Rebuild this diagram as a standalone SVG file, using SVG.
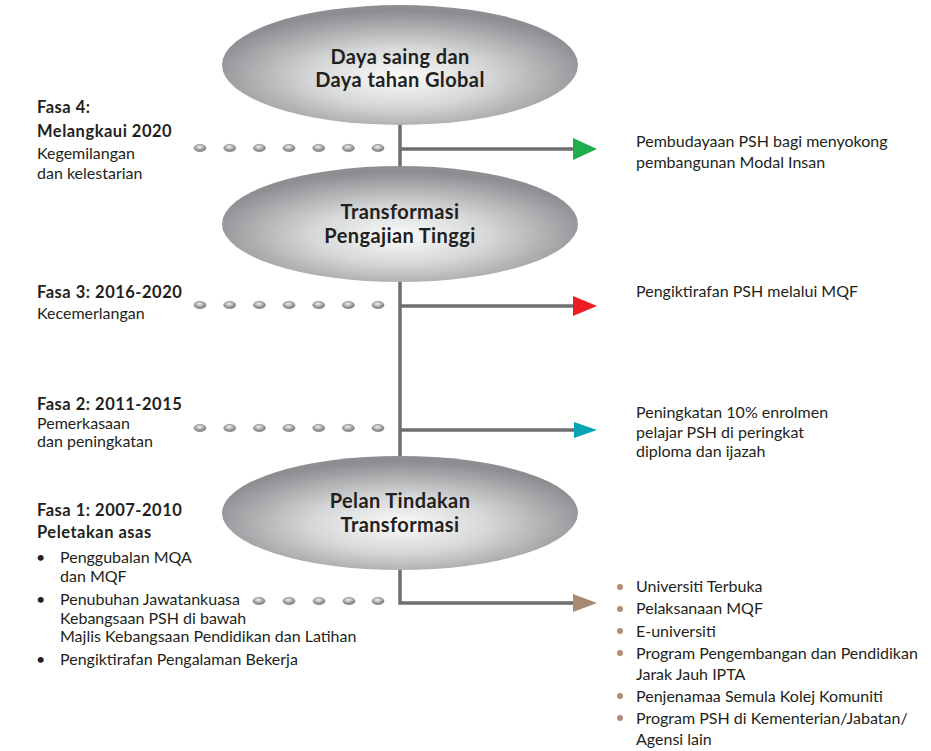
<svg xmlns="http://www.w3.org/2000/svg" width="931" height="751" viewBox="0 0 931 751">
<defs>
<radialGradient id="eg" cx="50%" cy="60%" r="55%">
<stop offset="0" stop-color="#fbfbfb"/>
<stop offset="0.45" stop-color="#d6d7d8"/>
<stop offset="1" stop-color="#8d8e91"/>
</radialGradient>
<radialGradient id="dg" cx="45%" cy="35%" r="65%">
<stop offset="0" stop-color="#f2f2f2"/>
<stop offset="1" stop-color="#6e6f72"/>
</radialGradient>
<g id="dot"><ellipse cx="0" cy="0" rx="6" ry="3.6" fill="url(#dg)" stroke="#7a7b7e" stroke-width="0.6"/></g>
</defs>
<style>
.t{font-family:Lato,"Liberation Sans",sans-serif;font-size:16px;fill:#231f20}
.b{font-family:Lato,"Liberation Sans",sans-serif;font-size:16.5px;font-weight:bold;letter-spacing:0.5px;fill:#231f20}
.h{font-family:Lato,"Liberation Sans",sans-serif;font-size:20px;font-weight:bold;letter-spacing:0.4px;fill:#231f20;text-anchor:middle}
.ln{stroke:#6d6e71;stroke-width:3.5;fill:none}
</style>
<rect width="931" height="751" fill="#ffffff"/>

<g id="connectors">
<path class="ln" d="M400 120 V170"/>
<path class="ln" d="M400 278 V460"/>
<path class="ln" d="M400 566 V603 H576"/>
<path class="ln" d="M400 149 H576"/>
<path class="ln" d="M400 306 H576"/>
<path class="ln" d="M400 430 H576"/>
<polygon points="573,138 597,149 573,160" fill="#1fae4b"/>
<polygon points="573,296 597,306 573,316" fill="#ed1c24"/>
<polygon points="574,422 597,430 574,438" fill="#07a3b5"/>
<polygon points="573,594 597,603 573,612" fill="#a68a74"/>
<g id="dots4">
<use href="#dot" x="200" y="148"/><use href="#dot" x="229.7" y="148"/><use href="#dot" x="259.4" y="148"/><use href="#dot" x="289" y="148"/><use href="#dot" x="318.7" y="148"/><use href="#dot" x="348.4" y="148"/><use href="#dot" x="378" y="148"/>
</g>
<g id="dots3">
<use href="#dot" x="200" y="305"/><use href="#dot" x="229.7" y="305"/><use href="#dot" x="259.4" y="305"/><use href="#dot" x="289" y="305"/><use href="#dot" x="318.7" y="305"/><use href="#dot" x="348.4" y="305"/><use href="#dot" x="378" y="305"/>
</g>
<g id="dots2">
<use href="#dot" x="200" y="428"/><use href="#dot" x="229.7" y="428"/><use href="#dot" x="259.4" y="428"/><use href="#dot" x="289" y="428"/><use href="#dot" x="318.7" y="428"/><use href="#dot" x="348.4" y="428"/><use href="#dot" x="378" y="428"/>
</g>
<g id="dots1">
<use href="#dot" x="259" y="601"/><use href="#dot" x="289" y="601"/><use href="#dot" x="319" y="601"/><use href="#dot" x="349" y="601"/><use href="#dot" x="378" y="601"/>
</g>
</g>

<g id="node-global">
<ellipse cx="400" cy="65" rx="178" ry="60" fill="url(#eg)"/>
<text class="h" x="400" y="64">Daya saing dan</text>
<text class="h" x="400" y="87">Daya tahan Global</text>
</g>
<g id="node-transformasi">
<ellipse cx="400" cy="224" rx="178" ry="58" fill="url(#eg)"/>
<text class="h" x="400" y="219">Transformasi</text>
<text class="h" x="400" y="243">Pengajian Tinggi</text>
</g>
<g id="node-pelan">
<ellipse cx="400" cy="513" rx="178" ry="57" fill="url(#eg)"/>
<text class="h" x="400" y="508">Pelan Tindakan</text>
<text class="h" x="400" y="532">Transformasi</text>
</g>

<g id="fasa4">
<text class="b" x="37" y="113">Fasa 4:</text>
<text class="b" x="37" y="137">Melangkaui 2020</text>
<text class="t" x="37" y="159">Kegemilangan</text>
<text class="t" x="37" y="179">dan kelestarian</text>
</g>
<g id="fasa3">
<text class="b" x="37" y="298">Fasa 3: 2016-2020</text>
<text class="t" x="37" y="319">Kecemerlangan</text>
</g>
<g id="fasa2">
<text class="b" x="37" y="410">Fasa 2: 2011-2015</text>
<text class="t" x="37" y="429">Pemerkasaan</text>
<text class="t" x="37" y="447">dan peningkatan</text>
</g>
<g id="fasa1">
<text class="b" x="37" y="516">Fasa 1: 2007-2010</text>
<text class="b" x="37" y="538">Peletakan asas</text>
<text class="t" x="36" y="563">•</text>
<text class="t" x="60" y="563">Penggubalan MQA</text>
<text class="t" x="60" y="582">dan MQF</text>
<text class="t" x="36" y="605">•</text>
<text class="t" x="60" y="605">Penubuhan Jawatankuasa</text>
<text class="t" x="60" y="624">Kebangsaan PSH di bawah</text>
<text class="t" x="60" y="642">Majlis Kebangsaan Pendidikan dan Latihan</text>
<text class="t" x="36" y="665">•</text>
<text class="t" x="60" y="665">Pengiktirafan Pengalaman Bekerja</text>
</g>

<g id="out4">
<text class="t" x="636" y="147">Pembudayaan PSH bagi menyokong</text>
<text class="t" x="636" y="168">pembangunan Modal Insan</text>
</g>
<g id="out3">
<text class="t" x="636" y="297">Pengiktirafan PSH melalui MQF</text>
</g>
<g id="out2">
<text class="t" x="636" y="418">Peningkatan 10% enrolmen</text>
<text class="t" x="636" y="438">pelajar PSH di peringkat</text>
<text class="t" x="636" y="457">diploma dan ijazah</text>
</g>
<g id="out1">
<g fill="#b08d76">
<circle cx="620" cy="587" r="3"/><circle cx="620" cy="609" r="3"/><circle cx="620" cy="631" r="3"/><circle cx="620" cy="653" r="3"/><circle cx="620" cy="696" r="3"/><circle cx="620" cy="718" r="3"/>
</g>
<text class="t" x="636" y="592">Universiti Terbuka</text>
<text class="t" x="636" y="614">Pelaksanaan MQF</text>
<text class="t" x="636" y="637">E-universiti</text>
<text class="t" x="636" y="659">Program Pengembangan dan Pendidikan</text>
<text class="t" x="636" y="680">Jarak Jauh IPTA</text>
<text class="t" x="636" y="702">Penjenamaa Semula Kolej Komuniti</text>
<text class="t" x="636" y="724">Program PSH di Kementerian/Jabatan/</text>
<text class="t" x="636" y="745">Agensi lain</text>
</g>
</svg>
